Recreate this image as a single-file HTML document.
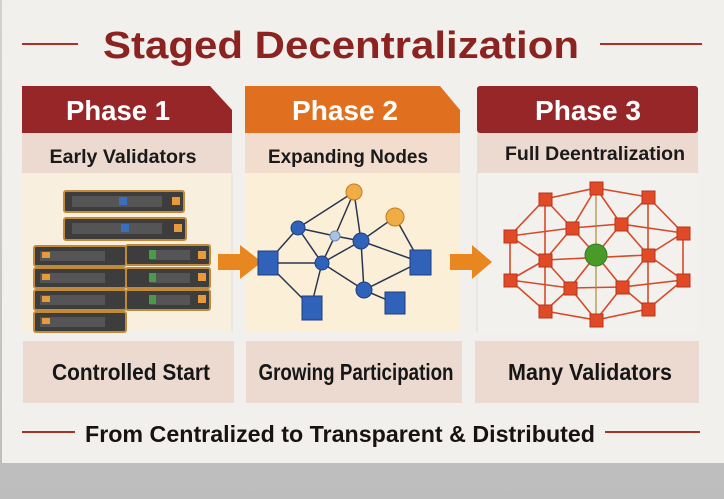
<!DOCTYPE html>
<html><head><meta charset="utf-8"><style>
body{margin:0;background:#c9c9c9;}
svg{display:block}
text{font-family:"Liberation Sans",sans-serif;font-weight:bold}
</style></head><body>
<svg width="724" height="499" viewBox="0 0 724 499">
<defs><linearGradient id="bg" x1="0" y1="0" x2="0" y2="1"><stop offset="0" stop-color="#d2d2d2"/><stop offset="1" stop-color="#bdbdbd"/></linearGradient></defs>
<rect width="724" height="499" fill="url(#bg)"/>
<rect x="2" y="0" width="722" height="463" fill="#f2f0ed"/>
<!-- title -->
<line x1="22" y1="44" x2="78" y2="44" stroke="#a83228" stroke-width="2"/>
<line x1="600" y1="44" x2="702" y2="44" stroke="#a83228" stroke-width="2"/>
<text x="341" y="58" text-anchor="middle" font-size="38" fill="#8b2420" textLength="476" lengthAdjust="spacingAndGlyphs">Staged Decentralization</text>
<!-- panel 1 -->
<rect x="22" y="173" width="210" height="159" fill="#f9efdf"/>
<path d="M22 86 H210 L232 110 V133 H22Z" fill="#962628"/>
<rect x="22" y="133" width="210" height="40" fill="#ecd9cf"/>
<line x1="232" y1="173" x2="232" y2="332" stroke="#ddd" />
<text x="118" y="120" text-anchor="middle" font-size="28" fill="#fff" textLength="104" lengthAdjust="spacingAndGlyphs">Phase 1</text>
<text x="123" y="163" text-anchor="middle" font-size="19" fill="#1a1a1a" textLength="147" lengthAdjust="spacingAndGlyphs">Early Validators</text>
<!-- panel 2 -->
<rect x="245" y="173" width="215" height="159" fill="#fbefd8"/>
<path d="M245 86 H440 L460 110 V133 H245Z" fill="#e0701f"/>
<rect x="245" y="133" width="215" height="40" fill="#f1dccd"/>
<text x="345" y="120" text-anchor="middle" font-size="28" fill="#fff" textLength="106" lengthAdjust="spacingAndGlyphs">Phase 2</text>
<text x="348" y="163" text-anchor="middle" font-size="19" fill="#1a1a1a" textLength="160" lengthAdjust="spacingAndGlyphs">Expanding Nodes</text>
<!-- panel 3 -->
<rect x="477" y="173" width="221" height="159" fill="#f3f1ee"/>
<rect x="477" y="86" width="221" height="47" rx="3" fill="#962628"/>
<rect x="477" y="133" width="221" height="40" fill="#ecd9cf"/>
<line x1="477" y1="173" x2="477" y2="332" stroke="#ddd"/>
<text x="588" y="120" text-anchor="middle" font-size="28" fill="#fff" textLength="106" lengthAdjust="spacingAndGlyphs">Phase 3</text>
<text x="595" y="160" text-anchor="middle" font-size="19" fill="#1a1a1a" textLength="180" lengthAdjust="spacingAndGlyphs">Full Deentralization</text>
<!-- servers -->
<g stroke="#c08a3a" stroke-width="2" fill="#3d3d3d">
<rect x="64" y="191" width="120" height="21" rx="2"/>
<rect x="64" y="218" width="122" height="22" rx="2"/>
<rect x="34" y="246" width="92" height="20" rx="2"/>
<rect x="34" y="268" width="92" height="20" rx="2"/>
<rect x="34" y="290" width="92" height="20" rx="2"/>
<rect x="34" y="312" width="92" height="20" rx="2"/>
<rect x="126" y="245" width="84" height="20" rx="2"/>
<rect x="126" y="268" width="84" height="20" rx="2"/>
<rect x="126" y="290" width="84" height="20" rx="2"/>
</g>
<g fill="#555"><rect x="72" y="196" width="90" height="11"/><rect x="72" y="223" width="90" height="11"/>
<rect x="40" y="251" width="65" height="10"/><rect x="40" y="273" width="65" height="10"/><rect x="40" y="295" width="65" height="10"/><rect x="40" y="317" width="65" height="10"/>
<rect x="150" y="250" width="40" height="10"/><rect x="150" y="273" width="40" height="10"/><rect x="150" y="295" width="40" height="10"/></g>
<g fill="#3a6fc0"><rect x="119" y="197" width="8" height="8"/><rect x="121" y="224" width="8" height="8"/></g>
<g fill="#4a9a4a"><rect x="149" y="250" width="7" height="9"/><rect x="149" y="273" width="7" height="9"/><rect x="149" y="295" width="7" height="9"/></g>
<g fill="#e89a3a"><rect x="172" y="197" width="8" height="8"/><rect x="174" y="224" width="8" height="8"/><rect x="198" y="251" width="8" height="8"/><rect x="198" y="273" width="8" height="8"/><rect x="198" y="295" width="8" height="8"/>
<rect x="42" y="252" width="8" height="6"/><rect x="42" y="274" width="8" height="6"/><rect x="42" y="296" width="8" height="6"/><rect x="42" y="318" width="8" height="6"/></g>
<!-- arrows -->
<path d="M218 254 H240 V245 L262 262 L240 279 V270 H218Z" fill="#e8861f"/>
<path d="M450 254 H472 V245 L492 262 L472 279 V270 H450Z" fill="#e8861f"/>
<!-- network 2 -->
<g stroke="#2a3550" stroke-width="1.5">
<line x1="354" y1="192" x2="298" y2="228"/><line x1="354" y1="192" x2="361" y2="241"/><line x1="354" y1="192" x2="335" y2="236"/>
<line x1="298" y1="228" x2="335" y2="236"/><line x1="335" y1="236" x2="361" y2="241"/><line x1="298" y1="228" x2="322" y2="263"/>
<line x1="335" y1="236" x2="322" y2="263"/><line x1="361" y1="241" x2="322" y2="263"/><line x1="361" y1="241" x2="395" y2="217"/>
<line x1="395" y1="217" x2="420" y2="262"/><line x1="361" y1="241" x2="420" y2="262"/><line x1="322" y1="263" x2="364" y2="290"/>
<line x1="322" y1="263" x2="267" y2="263"/><line x1="322" y1="263" x2="311" y2="307"/><line x1="298" y1="228" x2="267" y2="263"/>
<line x1="364" y1="290" x2="420" y2="262"/><line x1="364" y1="290" x2="394" y2="303"/><line x1="267" y1="263" x2="311" y2="307"/><line x1="361" y1="241" x2="364" y2="290"/>
</g>
<g fill="#2f62b8" stroke="#1d3f80">
<circle cx="298" cy="228" r="7"/><circle cx="361" cy="241" r="8"/><circle cx="322" cy="263" r="7"/><circle cx="364" cy="290" r="8"/>
<rect x="258" y="251" width="20" height="24"/><rect x="302" y="296" width="20" height="24"/><rect x="410" y="250" width="21" height="25"/><rect x="385" y="292" width="20" height="22"/>
</g>
<circle cx="335" cy="236" r="5" fill="#aac4e0" stroke="#6a8ab0"/>
<circle cx="354" cy="192" r="8" fill="#f0ad45" stroke="#c07a20"/>
<circle cx="395" cy="217" r="9" fill="#f0ad45" stroke="#c07a20"/>
<!-- network 3 -->
<g stroke="#d64a2a" stroke-width="1.6" fill="none">
<polygon points="596,188 648,197 683,233 683,280 648,309 596,320 545,311 510,280 510,236 545,199"/>
<polygon points="572,228 621,224 648,255 622,287 570,288 545,260"/>
<line x1="596" y1="188" x2="572" y2="228"/><line x1="596" y1="188" x2="621" y2="224"/>
<line x1="545" y1="199" x2="572" y2="228"/><line x1="545" y1="199" x2="545" y2="260"/><line x1="648" y1="197" x2="621" y2="224"/><line x1="648" y1="197" x2="648" y2="255"/>
<line x1="510" y1="236" x2="572" y2="228"/><line x1="510" y1="236" x2="545" y2="260"/><line x1="683" y1="233" x2="621" y2="224"/><line x1="683" y1="233" x2="648" y2="255"/>
<line x1="510" y1="280" x2="545" y2="260"/><line x1="510" y1="280" x2="570" y2="288"/><line x1="683" y1="280" x2="648" y2="255"/><line x1="683" y1="280" x2="622" y2="287"/>
<line x1="545" y1="311" x2="570" y2="288"/><line x1="545" y1="311" x2="545" y2="260"/><line x1="648" y1="309" x2="622" y2="287"/><line x1="648" y1="309" x2="648" y2="255"/>
<line x1="596" y1="320" x2="570" y2="288"/><line x1="596" y1="320" x2="622" y2="287"/>
<line x1="572" y1="228" x2="596" y2="255"/><line x1="621" y1="224" x2="596" y2="255"/><line x1="545" y1="260" x2="648" y2="255"/><line x1="570" y1="288" x2="596" y2="255"/><line x1="622" y1="287" x2="596" y2="255"/>
</g>
<line x1="596" y1="188" x2="596" y2="320" stroke="#b08a3a" stroke-width="1.2"/>
<g fill="#e04a26" stroke="#b8341a">
<rect x="590" y="182" width="13" height="13"/><rect x="539" y="193" width="13" height="13"/><rect x="642" y="191" width="13" height="13"/>
<rect x="566" y="222" width="13" height="13"/><rect x="615" y="218" width="13" height="13"/><rect x="504" y="230" width="13" height="13"/><rect x="677" y="227" width="13" height="13"/>
<rect x="539" y="254" width="13" height="13"/><rect x="642" y="249" width="13" height="13"/><rect x="504" y="274" width="13" height="13"/><rect x="677" y="274" width="13" height="13"/>
<rect x="564" y="282" width="13" height="13"/><rect x="616" y="281" width="13" height="13"/><rect x="539" y="305" width="13" height="13"/><rect x="642" y="303" width="13" height="13"/><rect x="590" y="314" width="13" height="13"/>
</g>
<circle cx="596" cy="255" r="11" fill="#4a9a2a" stroke="#3a7a20"/>
<!-- bottom boxes -->
<rect x="23" y="341" width="211" height="62" fill="#ecdad1"/>
<rect x="246" y="341" width="216" height="62" fill="#ecdad1"/>
<rect x="475" y="341" width="224" height="62" fill="#ecdad1"/>
<text x="131" y="380" text-anchor="middle" font-size="23" fill="#161616" textLength="158" lengthAdjust="spacingAndGlyphs">Controlled Start</text>
<text x="356" y="380" text-anchor="middle" font-size="23" fill="#161616" textLength="195" lengthAdjust="spacingAndGlyphs">Growing Participation</text>
<text x="590" y="380" text-anchor="middle" font-size="23" fill="#161616" textLength="164" lengthAdjust="spacingAndGlyphs">Many Validators</text>
<!-- footer -->
<line x1="22" y1="432" x2="75" y2="432" stroke="#a83228" stroke-width="2"/>
<line x1="605" y1="432" x2="700" y2="432" stroke="#a83228" stroke-width="2"/>
<text x="340" y="442" text-anchor="middle" font-size="23" fill="#1a1212" textLength="510" lengthAdjust="spacingAndGlyphs">From Centralized to Transparent &amp; Distributed</text>
</svg>
</body></html>
